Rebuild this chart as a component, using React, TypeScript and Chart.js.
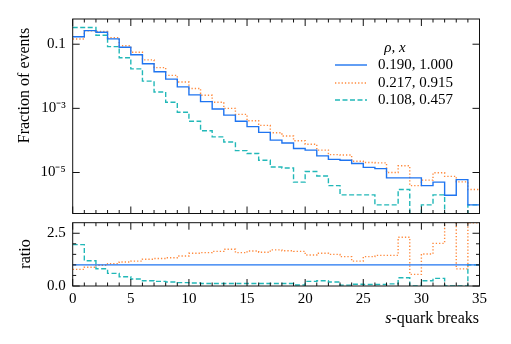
import React, { useEffect, useRef } from 'react';
import { Chart, registerables } from 'chart.js';

Chart.register(...registerables);

const FONT = "'Liberation Serif', 'Times New Roman', serif";

// ---- data ----
const binLowEdges = [0, 1, 2, 3, 4, 5, 6, 7, 8, 9, 10, 11, 12, 13, 14, 15, 16, 17, 18, 19, 20, 21, 22, 23, 24, 25, 26, 27, 28, 29, 30, 31, 32, 33, 34];
const binWidth = 1;

const seriesLabels = ['0.190, 1.000', '0.217, 0.915', '0.108, 0.457'];
const legendTitle = 'ρ, x';

const blueFrac = [0.170, 0.266, 0.237, 0.147, 0.0805, 0.0468, 0.0245, 0.0138, 0.00813, 0.00468, 0.00263, 0.00162, 9.55e-4, 6.17e-4, 3.98e-4, 2.69e-4, 1.78e-4, 1.02e-4, 8.3e-5, 5.6e-5, 5.0e-5, 3.3e-5, 2.57e-5, 2.4e-5, 1.9e-5, 1.45e-5, 1.32e-5, 6.8e-6, 6.8e-6, 6.8e-6, 3.9e-6, 5.0e-6, 1.95e-6, 6.0e-6, 9.8e-7];
const orangeFrac = [0.145, 0.263, 0.248, 0.161, 0.0891, 0.0562, 0.0324, 0.0186, 0.0107, 0.0066, 0.00417, 0.00257, 0.00155, 0.00100, 6.5e-4, 4.1e-4, 2.95e-4, 1.74e-4, 1.38e-4, 9.8e-5, 7.6e-5, 5.0e-5, 3.6e-5, 3.5e-5, 2.24e-5, 2.04e-5, 2.0e-5, 1.0e-5, 1.62e-5, 3.9e-6, 5.8e-6, 9.8e-6, 7.6e-6, 5.1e-6, 2.95e-6];
const tealFrac = [0.331, 0.331, 0.191, 0.0841, 0.038, 0.017, 0.00708, 0.00324, 0.00155, 7.6e-4, 3.98e-4, 2.0e-4, 1.29e-4, 8.9e-5, 4.8e-5, 3.9e-5, 2.4e-5, 1.48e-5, 1.38e-5, 5.0e-6, 1.07e-5, 7.8e-6, 3.9e-6, 2.0e-6, 2.0e-6, 2.0e-6, 9.8e-7, 9.8e-7, 2.95e-6, 0, 9.8e-7, 2.0e-6, 0, 0, 9.8e-7];

const blueRatio = [1, 1, 1, 1, 1, 1, 1, 1, 1, 1, 1, 1, 1, 1, 1, 1, 1, 1, 1, 1, 1, 1, 1, 1, 1, 1, 1, 1, 1, 1, 1, 1, 1, 1, 1];
const orangeRatio = [0.79, 0.89, 0.98, 1.06, 1.14, 1.18, 1.27, 1.30, 1.34, 1.42, 1.55, 1.58, 1.64, 1.74, 1.58, 1.66, 1.60, 1.71, 1.67, 1.64, 1.47, 1.55, 1.50, 1.39, 1.18, 1.39, 1.45, 1.45, 2.31, 0.55, 1.52, 2.02, 3.9, 0.81, 3.0];
const tealRatio = [1.96, 1.20, 0.82, 0.60, 0.44, 0.33, 0.25, 0.22, 0.19, 0.16, 0.14, 0.12, 0.12, 0.12, 0.12, 0.12, 0.12, 0.12, 0.12, 0.05, 0.22, 0.25, 0.19, 0.04, 0.08, 0.07, 0.07, 0.10, 0.39, 0, 0.25, 0.36, 0, 0, 1.0];

const xMajorTicks = [0, 5, 10, 15, 20, 25, 30, 35];
const xMinorTicks = [1, 2, 3, 4, 6, 7, 8, 9, 11, 12, 13, 14, 16, 17, 18, 19, 21, 22, 23, 24, 26, 27, 28, 29, 31, 32, 33, 34];
const topYTicks = [0.1, 1e-3, 1e-5];
const topYTickLabels = ['0.1', '10⁻³', '10⁻⁵'];
const ratioMajorTicks = [0, 2.5];
const ratioMinorTicks = [0.5, 1, 1.5, 2];

const X_MIN = 0, X_MAX = 35;
const TOP_Y_MIN = 5.27e-7, TOP_Y_MAX = 0.611;
const LOG_FLOOR = 1e-12; // empty bins drawn below the axis (clipped)
const RATIO_MIN = 0, RATIO_MAX = 3;

// ---- styles ----
const BLUE = '#1f74f0';
const ORANGE = '#ff8a3d';
const TEAL = '#22b8b8';
const DASHES = [[], [1.3, 2.0], [5, 2.5]];
const COLORS = [BLUE, ORANGE, TEAL];

function histPoints(values: number[], floor?: number) {
  const pts: { x: number; y: number }[] = [];
  values.forEach((v, i) => {
    const y = v > 0 || floor === undefined ? v : floor;
    pts.push({ x: binLowEdges[i], y }, { x: binLowEdges[i] + binWidth, y });
  });
  return pts;
}

function makeDatasets(arrays: number[][], floor?: number) {
  return arrays.map((arr, i) => ({
    label: seriesLabels[i],
    data: histPoints(arr, floor),
    borderColor: COLORS[i],
    borderDash: DASHES[i],
    borderWidth: 1.4,
    pointRadius: 0,
    fill: false,
    tension: 0,
  }));
}

function framePlugin(yMajor: number[], yMinor: number[], extra: (chart: any) => void) {
  return {
    id: 'frameTicks',
    afterDraw(chart: any) {
      const { ctx, chartArea: a } = chart;
      const xs = chart.scales.x;
      const ys = chart.scales.y;
      ctx.save();
      ctx.strokeStyle = '#111';
      ctx.lineWidth = 1;
      ctx.setLineDash([]);
      ctx.beginPath();
      const vtick = (v: number, len: number) => {
        const px = xs.getPixelForValue(v);
        ctx.moveTo(px, a.bottom);
        ctx.lineTo(px, a.bottom - len);
        ctx.moveTo(px, a.top);
        ctx.lineTo(px, a.top + len);
      };
      const htick = (v: number, len: number) => {
        const py = ys.getPixelForValue(v);
        ctx.moveTo(a.left, py);
        ctx.lineTo(a.left + len, py);
        ctx.moveTo(a.right, py);
        ctx.lineTo(a.right - len, py);
      };
      xMajorTicks.forEach((v) => vtick(v, 7));
      xMinorTicks.forEach((v) => vtick(v, 3.5));
      yMajor.forEach((v) => htick(v, 7));
      yMinor.forEach((v) => htick(v, 3.5));
      ctx.stroke();
      ctx.strokeRect(a.left, a.top, a.right - a.left, a.bottom - a.top);
      ctx.restore();
      ctx.save();
      extra(chart);
      ctx.restore();
    },
  };
}

function drawTopExtras(chart: any) {
  const { ctx } = chart;
  ctx.fillStyle = '#000';
  // y title
  ctx.save();
  ctx.translate(25, 85.5);
  ctx.rotate(-Math.PI / 2);
  ctx.font = `16px ${FONT}`;
  ctx.textAlign = 'center';
  ctx.textBaseline = 'middle';
  ctx.fillText('Fraction of events', 0, 0);
  ctx.restore();
  // legend
  ctx.font = `italic 15px ${FONT}`;
  ctx.textAlign = 'center';
  ctx.textBaseline = 'middle';
  ctx.fillText(legendTitle, 395, 48);
  const rows = [65, 83, 100];
  chart.data.datasets.forEach((ds: any, i: number) => {
    const y = rows[i];
    ctx.save();
    ctx.strokeStyle = ds.borderColor;
    ctx.lineWidth = ds.borderWidth;
    ctx.setLineDash(ds.borderDash || []);
    ctx.beginPath();
    ctx.moveTo(335, y);
    ctx.lineTo(367, y);
    ctx.stroke();
    ctx.restore();
    ctx.font = `15px ${FONT}`;
    ctx.textAlign = 'left';
    ctx.textBaseline = 'middle';
    ctx.fillStyle = '#000';
    ctx.fillText(ds.label, 378, y + 0.5);
  });
}

function drawBottomExtras(chart: any) {
  const { ctx } = chart;
  ctx.fillStyle = '#000';
  ctx.save();
  ctx.translate(26, 254);
  ctx.rotate(-Math.PI / 2);
  ctx.font = `16px ${FONT}`;
  ctx.textAlign = 'center';
  ctx.textBaseline = 'middle';
  ctx.fillText('ratio', 0, 0);
  ctx.restore();
  // x title with italic s
  const rest = '-quark breaks';
  ctx.textBaseline = 'alphabetic';
  ctx.font = `16px ${FONT}`;
  const wRest = ctx.measureText(rest).width;
  ctx.font = `italic 16px ${FONT}`;
  const wS = ctx.measureText('s').width;
  const right = 479;
  const base = 323;
  ctx.textAlign = 'left';
  ctx.fillText('s', right - wRest - wS, base);
  ctx.font = `16px ${FONT}`;
  ctx.fillText(rest, right - wRest, base);
}

const PAD_LEFT = 12.7, AXIS_W = 60, PAD_RIGHT = 31.5;

export default function App() {
  const topRef = useRef<HTMLCanvasElement>(null);
  const botRef = useRef<HTMLCanvasElement>(null);

  useEffect(() => {
    const top = new Chart(topRef.current as HTMLCanvasElement, {
      type: 'line',
      data: { datasets: makeDatasets([blueFrac, orangeFrac, tealFrac], LOG_FLOOR) as any },
      options: {
        responsive: false,
        animation: false,
        devicePixelRatio: 1,
        layout: { padding: { left: PAD_LEFT, right: PAD_RIGHT, top: 19, bottom: 130.5 } },
        plugins: { legend: { display: false }, tooltip: { enabled: false } },
        scales: {
          x: { type: 'linear', min: X_MIN, max: X_MAX, display: false },
          y: {
            type: 'logarithmic',
            min: TOP_Y_MIN,
            max: TOP_Y_MAX,
            afterFit: (s: any) => { s.width = AXIS_W; },
            afterBuildTicks: (s: any) => { s.ticks = topYTicks.map((v) => ({ value: v })); },
            grid: { display: false, drawTicks: false },
            border: { display: false },
            ticks: {
              autoSkip: false,
              padding: 7,
              color: '#000',
              font: { family: FONT, size: 15 },
              callback: (_v: any, i: number) => topYTickLabels[i],
            },
          },
        },
      } as any,
      plugins: [framePlugin(topYTicks, [], drawTopExtras)],
    });

    const bot = new Chart(botRef.current as HTMLCanvasElement, {
      type: 'line',
      data: { datasets: makeDatasets([blueRatio, orangeRatio, tealRatio]) as any },
      options: {
        responsive: false,
        animation: false,
        devicePixelRatio: 1,
        layout: { padding: { left: PAD_LEFT, right: PAD_RIGHT, top: 222.7, bottom: 28 } },
        plugins: { legend: { display: false }, tooltip: { enabled: false } },
        scales: {
          x: {
            type: 'linear',
            min: X_MIN,
            max: X_MAX,
            afterFit: (s: any) => { s.height = 30; },
            afterBuildTicks: (s: any) => { s.ticks = xMajorTicks.map((v) => ({ value: v })); },
            grid: { display: false, drawTicks: false },
            border: { display: false },
            ticks: { autoSkip: false, maxRotation: 0, padding: 4, color: '#000', font: { family: FONT, size: 15 } },
          },
          y: {
            type: 'linear',
            min: RATIO_MIN,
            max: RATIO_MAX,
            afterFit: (s: any) => { s.width = AXIS_W; },
            afterBuildTicks: (s: any) => { s.ticks = ratioMajorTicks.map((v) => ({ value: v })); },
            grid: { display: false, drawTicks: false },
            border: { display: false },
            ticks: {
              autoSkip: false,
              padding: 7,
              color: '#000',
              font: { family: FONT, size: 15 },
              callback: (v: any) => Number(v).toFixed(1),
            },
          },
        },
      } as any,
      plugins: [framePlugin(ratioMajorTicks, ratioMinorTicks, drawBottomExtras)],
    });

    return () => {
      top.destroy();
      bot.destroy();
    };
  }, []);

  return (
    <div style={{ position: 'fixed', left: 0, top: 0, width: 511, height: 344, background: '#fff' }}>
      <canvas ref={topRef} width={511} height={344} style={{ position: 'absolute', left: 0, top: 0 }} />
      <canvas ref={botRef} width={511} height={344} style={{ position: 'absolute', left: 0, top: 0 }} />
    </div>
  );
}
